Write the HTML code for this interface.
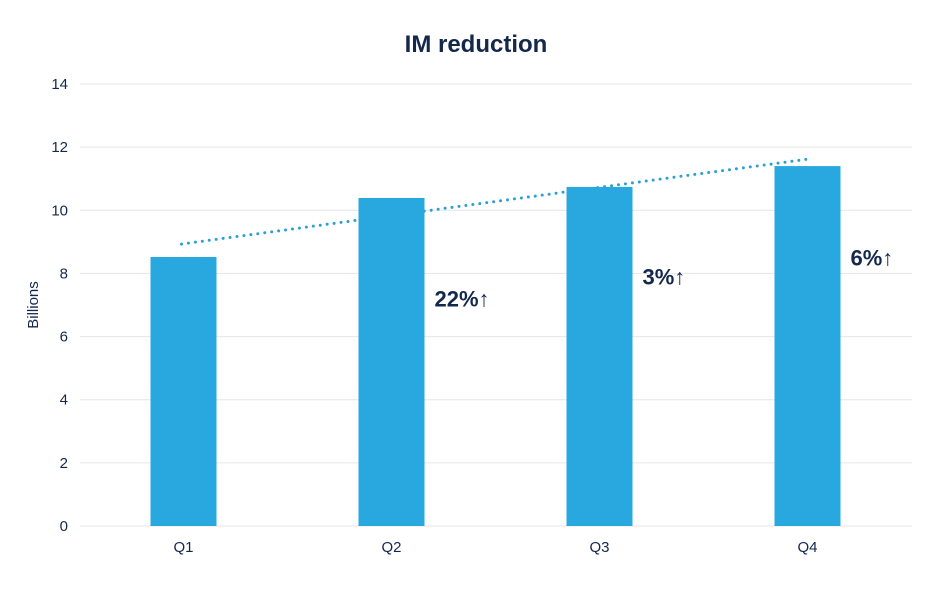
<!DOCTYPE html>
<html><head><meta charset="utf-8"><style>
body{margin:0;background:#fff;width:940px;height:600px;overflow:hidden;font-family:"Liberation Sans",sans-serif}
</style></head><body>
<svg id="chart" width="940" height="600" xmlns="http://www.w3.org/2000/svg">
<text x="476" y="52" text-anchor="middle" font-size="24" font-weight="bold" fill="#14284b">IM reduction</text>
<text transform="translate(38,305) rotate(-90)" text-anchor="middle" font-size="15" fill="#14284b">Billions</text>
<g id="grid"></g><g id="trend"></g><g id="bars"></g><g id="labels"></g>
</svg>
<script>
const categories=["Q1","Q2","Q3","Q4"];
const values=[8.52,10.39,10.74,11.40];
const yTicks=[0,2,4,6,8,10,12,14];
const trendValues=[8.93,11.62];
const growthLabels=["","22%↑","3%↑","6%↑"];
const growthValues=[null,7.2,7.9,8.5];
const NS="http://www.w3.org/2000/svg";
const L=80,R=912,T=84,B=526;
const y=v=>B-(v/14)*(B-T);
const bw=(R-L)/categories.length;
const xc=i=>L+bw*(i+0.5)-0.5;
function mk(t,a,p){const e=document.createElementNS(NS,t);for(const k in a)e.setAttribute(k,a[k]);p.appendChild(e);return e;}
const g=document.getElementById('grid');
yTicks.forEach(t=>{
 const l=mk('line',{x1:L,x2:R,y1:y(t),y2:y(t),stroke:'#e6e6e6','stroke-width':1},g);
 
 
 const tx=mk('text',{x:68,y:y(t)+5,'text-anchor':'end','font-size':15,fill:'#14284b'},g);
 tx.textContent=t;
 
 
});
const tr=mk('line',{x1:xc(0)-2,y1:y(trendValues[0]),x2:xc(3),y2:y(trendValues[1]),stroke:'#2a9fd6','stroke-width':3,'stroke-dasharray':'0 7','stroke-linecap':'round'},document.getElementById('trend'));


const bg=document.getElementById('bars'),lg=document.getElementById('labels');
categories.forEach((c,i)=>{
 const r=mk('rect',{x:xc(i)-33,y:y(values[i]),width:66,height:B-y(values[i]),fill:'#29a8e0'},bg);
 
 
 const t=mk('text',{x:xc(i),y:B+26,'text-anchor':'middle','font-size':15,fill:'#14284b'},lg);
 t.textContent=c;
 
 
 if(growthLabels[i]){
  const gtx=mk('text',{x:xc(i)+43,y:y(growthValues[i])+8,'font-size':22,'font-weight':'bold',fill:'#14284b'},lg);
  gtx.textContent=growthLabels[i];
  
  
 }
});
</script>
</body></html>
